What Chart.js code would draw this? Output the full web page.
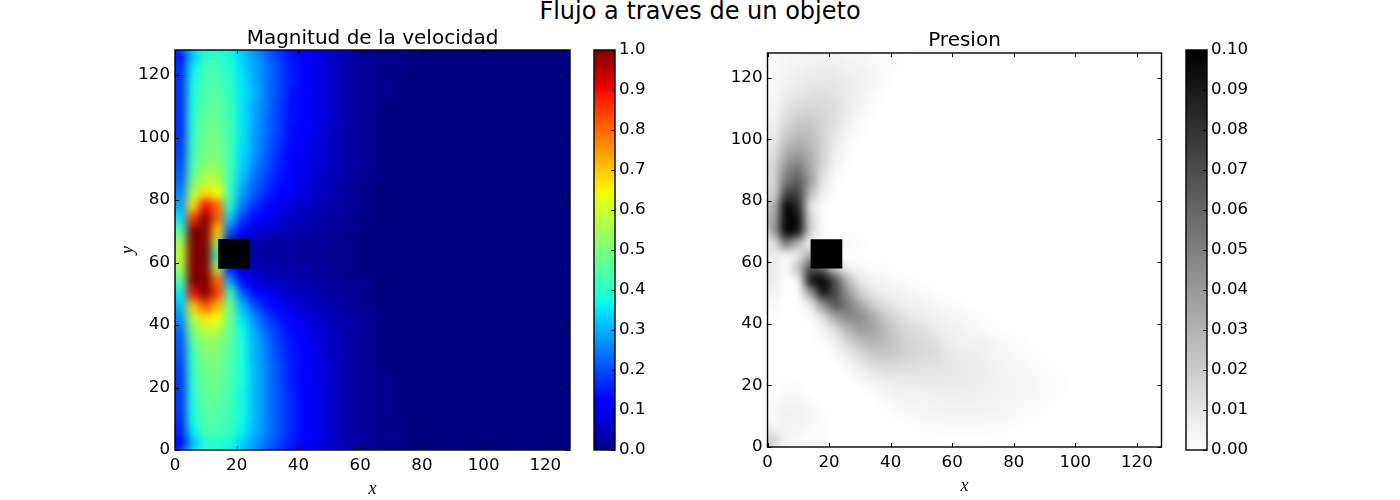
<!DOCTYPE html>
<html>
<head>
<meta charset="utf-8">
<script src="https://cdn.jsdelivr.net/npm/chart.js@4"></script>
<style>
  html, body { margin: 0; background: #fff; }
  #page { position: relative; width: 1400px; height: 500px; overflow: hidden; }
  #page canvas { position: absolute; left: 0; top: 0; }
  .clip { position: absolute; overflow: hidden; }
  #suptitle { position: absolute; left: 0; width: 1400px; top: -3px; text-align: center; font: 24px "DejaVu Sans"; color: #000; }
</style>
</head>
<body>
<div id="page"><div id="suptitle">Flujo a traves de un objeto</div></div>
<script>
// cell centres, rows go from the top of the plot down
const cellX = [2,6,10,14,18,22,26,30,34,38,42,46,50,54,58,62,66,70,74,78,82,86,90,94,98,102,106,110,114,118,122,126];
const cellY = [126,122,118,114,110,106,102,98,94,90,86,82,78,74,70,66,62,58,54,50,46,42,38,34,30,26,22,18,14,10,6,2];

// velocity magnitude in hundredths, columns left out on the right are ~0
const speedRows = [
  [14,32,40,41,38,33,28,23,18,14,11,9,7,5,3,2,1,1],
  [17,36,43,43,39,34,29,24,19,15,11,9,7,5,3,2,1,1],
  [17,37,44,44,40,35,29,24,19,15,11,9,7,5,3,2,1,1],
  [17,38,45,45,41,35,30,24,19,14,11,9,7,5,3,2,1,1],
  [17,39,46,46,42,35,29,24,18,14,11,9,7,5,3,2,1,0],
  [17,40,47,47,42,35,29,23,18,14,11,9,7,5,3,2,1,0],
  [17,41,48,48,43,35,28,23,18,13,11,9,6,4,3,2,1,0],
  [18,42,49,49,43,35,28,22,17,13,10,8,6,4,3,2,1,0],
  [19,43,50,50,43,34,27,21,16,12,10,8,6,4,3,2,1,0],
  [20,45,53,53,43,33,25,20,15,12,9,8,6,4,3,2,1,0],
  [22,49,58,57,42,31,23,18,14,11,9,7,5,4,2,1,1,0],
  [25,56,68,64,42,28,21,16,12,10,8,6,5,3,2,1,0,0],
  [28,67,90,80,40,24,17,13,10,8,6,5,4,3,2,1,0,0],
  [34,85,115,80,32,18,13,10,8,6,5,4,3,2,1,1,0,0],
  [44,105,125,70,22,12,8,7,5,4,4,3,2,2,1,0,0,0],
  [54,118,125,55,3,3,4,3,3,3,2,2,2,1,1,0,0,0],
  [58,122,125,40,2,2,3,3,3,3,2,2,2,1,1,0,0,0],
  [55,118,125,55,14,7,5,4,4,3,3,2,2,1,1,0,0,0],
  [46,108,125,80,28,12,8,6,5,4,4,3,2,2,1,1,0,0],
  [36,90,108,85,42,22,13,10,8,6,5,4,3,2,2,1,0,0],
  [31,70,82,72,48,30,20,14,11,8,7,5,4,3,2,1,1,0],
  [27,58,67,64,48,35,26,19,14,11,8,7,5,4,3,2,1,0],
  [23,50,58,56,47,37,29,22,17,13,10,8,6,4,3,2,1,0],
  [21,45,53,52,46,38,30,24,18,14,11,8,6,5,3,2,1,0],
  [20,43,51,50,45,38,30,24,19,15,11,9,6,5,3,2,1,0],
  [19,42,49,49,44,38,31,25,20,15,12,9,7,5,3,2,1,0],
  [18,41,48,48,44,38,31,25,20,15,12,9,7,5,3,2,1,1],
  [18,40,47,47,43,37,31,25,20,16,12,10,7,5,3,2,1,1],
  [18,39,46,46,43,37,31,25,20,16,12,10,7,5,3,2,1,1],
  [17,38,45,45,42,37,31,25,20,16,12,10,7,5,3,2,1,1],
  [16,36,44,44,41,36,30,25,20,16,12,10,7,5,3,2,1,1],
  [13,31,39,40,38,33,28,23,19,15,11,9,7,5,3,2,1,1],
];

// pressure in thousandths, columns left out on the right are ~0
const pressureRows = [
  [1,3,4,5,5,5,4,3,2,1],
  [2,4,6,7,8,8,6,5,3,2],
  [2,5,8,9,10,10,8,6,4,1],
  [3,7,10,12,13,11,8,5,2],
  [4,11,14,16,15,13,8,4,1],
  [5,14,20,21,17,12,6,2],
  [7,19,26,25,17,10,4,1],
  [10,26,32,28,17,8,2],
  [12,35,42,32,17,6,1],
  [15,45,55,35,14,3],
  [15,55,65,38,10,1],
  [14,75,75,25,5],
  [25,130,85,10,1],
  [30,130,95,15,1],
  [35,130,95,18,1],
  [10,55,28,2,0,0,4,1],
  [8,1,8,35],
  [8,0,25,70,60,18,5,3,1,1],
  [8,0,3,95,130,70,28,9,5,3,2,1],
  [6,0,1,40,95,72,42,20,10,6,5,3,2,1],
  [3,0,0,8,42,68,52,36,20,13,8,6,5,3,2,1],
  [1,0,0,2,12,36,46,46,34,22,15,10,8,6,4,3,2,1],
  [0,0,0,0,4,14,30,38,36,28,19,14,12,9,6,5,3,2,1],
  [0,0,0,0,1,6,16,26,30,27,21,17,15,12,8,6,5,5,3,2,1],
  [0,0,0,0,0,2,8,14,21,22,20,17,15,14,10,8,7,6,4,3,2,1],
  [0,0,0,0,0,0,3,7,12,14,14,13,12,11,10,9,8,7,5,4,3,2,1],
  [0,1,0,0,0,0,0,3,6,8,9,9,9,9,9,9,8,7,6,5,4,3,2,1],
  [0,2,2,0,0,0,0,0,2,4,5,6,6,7,7,7,7,6,6,5,4,3,2,1],
  [2,4,4,2,0,0,0,0,0,1,3,4,4,5,6,6,6,5,5,4,3,2,1],
  [3,5,5,3,1,0,0,0,0,0,1,2,3,3,4,4,4,4,3,3,2,1],
  [3,5,4,2,1,0,0,0,0,0,0,0,1,1,2,2,2,2,1,1],
  [18,3,2,1],
];

const obstacleX = [14,24.3,24.3,14,14];
const obstacleY = [58,58,67.5,67.5,58];
const axisTicks = [0,20,40,60,80,100,120];

Chart.defaults.font.family = "DejaVu Sans";
Chart.defaults.color = "#000";
Chart.defaults.animation = false;
Chart.defaults.responsive = false;
Chart.defaults.devicePixelRatio = 1;

const page = document.getElementById("page");

function piece(v, pts) {
  for (let i = 1; i < pts.length; i++) {
    if (v <= pts[i][0]) {
      const a = pts[i - 1], b = pts[i];
      return a[1] + (b[1] - a[1]) * (v - a[0]) / (b[0] - a[0]);
    }
  }
  return pts[pts.length - 1][1];
}
function jet(v) {
  v = Math.min(1, Math.max(0, v));
  const r = piece(v, [[0,0],[0.35,0],[0.66,1],[0.89,1],[1,0.5]]);
  const g = piece(v, [[0,0],[0.125,0],[0.375,1],[0.64,1],[0.91,0],[1,0]]);
  const b = piece(v, [[0,0.5],[0.11,1],[0.34,1],[0.65,0],[1,0]]);
  return `rgb(${Math.round(r*255)},${Math.round(g*255)},${Math.round(b*255)})`;
}
function grayInv(v) {
  const c = Math.round(255 * (1 - Math.min(1, Math.max(0, v))));
  return `rgb(${c},${c},${c})`;
}
const jetStops = [0,0.11,0.125,0.34,0.35,0.375,0.64,0.65,0.66,0.89,0.91,1];
const grayStops = [0,1];

function addCanvas(parent, w, h) {
  const c = document.createElement("canvas");
  c.width = w; c.height = h;
  c.style.width = w + "px"; c.style.height = h + "px";
  parent.appendChild(c);
  return c;
}

// inward ticks and the black frame
function framePlugin(sides) {
  return {
    id: "frame",
    afterDatasetsDraw(chart) {
      const { ctx, chartArea: a, scales } = chart;
      ctx.save();
      ctx.strokeStyle = "#000";
      ctx.lineWidth = 1;
      ctx.beginPath();
      if (sides.includes("x")) {
        scales.x.ticks.forEach(t => {
          const p = Math.round(scales.x.getPixelForValue(t.value)) + 0.5;
          ctx.moveTo(p, a.bottom); ctx.lineTo(p, a.bottom - 4);
          ctx.moveTo(p, a.top); ctx.lineTo(p, a.top + 4);
        });
      }
      scales.y.ticks.forEach(t => {
        const p = Math.round(scales.y.getPixelForValue(t.value)) + 0.5;
        if (sides.includes("y")) { ctx.moveTo(a.left, p); ctx.lineTo(a.left + 4, p); }
        ctx.moveTo(a.right, p); ctx.lineTo(a.right - 4, p);
      });
      ctx.stroke();
      ctx.lineWidth = 1.4;
      ctx.strokeRect(a.left, a.top, a.right - a.left, a.bottom - a.top);
      ctx.restore();
    },
  };
}

function heatLayer(box, rows, bg, colorOf, blur) {
  const m = 24;
  const clip = document.createElement("div");
  clip.className = "clip";
  clip.style.cssText = `left:${box.l}px;top:${box.t}px;width:${box.r-box.l}px;height:${box.b-box.t}px;background:${bg}`;
  page.appendChild(clip);
  const c = addCanvas(clip, box.r - box.l + 2 * m, box.b - box.t + 2 * m);
  c.style.left = -m + "px"; c.style.top = -m + "px";
  c.style.filter = `blur(${blur}px)`;
  const cells = [], edge = [];
  rows.forEach((row, r) => row.forEach((v, k) => {
    const cell = { x: cellX[k], y: cellY[r], v };
    cells.push(cell);
    if (r === 0 || r === rows.length - 1 || k === 0) edge.push(cell);
  }));
  const common = {
    pointStyle: "rect", pointBorderWidth: 0, clip: false,
    pointBackgroundColor: ctx => colorOf(ctx.raw.v),
  };
  new Chart(c, {
    type: "scatter",
    data: { datasets: [
      { ...common, data: cells, order: 1, pointRadius: 9.6 },
      { ...common, data: edge, order: 2, pointRadius: 22 },
    ] },
    options: {
      layout: { padding: m },
      plugins: { legend: { display: false }, tooltip: { enabled: false } },
      scales: {
        x: { display: false, min: 0, max: 128 },
        y: { display: false, min: 0, max: 128 },
      },
    },
  });
}

function axesLayer(box, title, yTitle, yWidth, titleTop) {
  const c = addCanvas(page, 1400, 500);
  const labelFont = { family: "Liberation Serif", size: 18, style: "italic" };
  new Chart(c, {
    type: "scatter",
    data: { datasets: [{
      data: obstacleX.map((x, i) => ({ x, y: obstacleY[i] })),
      showLine: true, fill: "shape", backgroundColor: "#000",
      borderWidth: 0, pointRadius: 0, tension: 0,
    }] },
    options: {
      layout: { padding: { left: box.l - yWidth, right: 1400 - box.r, top: titleTop, bottom: 500 - box.b - 50 } },
      plugins: {
        legend: { display: false }, tooltip: { enabled: false },
        title: { display: true, text: title, fullSize: false, color: "#000",
                 font: { size: 20, weight: "normal" }, padding: { top: 0, bottom: box.t - titleTop - 24 } },
      },
      scales: {
        x: {
          type: "linear", min: 0, max: 128,
          afterBuildTicks(s) { s.ticks = axisTicks.map(value => ({ value })); },
          afterFit(s) { s.height = 50; },
          grid: { display: false, drawTicks: false }, border: { display: false },
          ticks: { maxRotation: 0, autoSkip: false, padding: 6, font: { size: 16.67 }, color: "#000" },
          title: { display: true, text: "x", font: labelFont, color: "#000", padding: 0 },
        },
        y: {
          type: "linear", min: 0, max: 128,
          afterBuildTicks(s) { s.ticks = axisTicks.map(value => ({ value })); },
          afterFit(s) { s.width = yWidth; },
          grid: { display: false, drawTicks: false }, border: { display: false },
          ticks: { autoSkip: false, padding: 5, font: { size: 16.67 }, color: "#000" },
          title: { display: yTitle, text: "y", font: labelFont, color: "#000", padding: 0 },
        },
      },
    },
    plugins: [framePlugin(["x", "y"])],
  });
}

function colorbar(box, top, step, digits, stops, colorOf) {
  const c = addCanvas(page, 1400, 500);
  new Chart(c, {
    type: "bar",
    data: { labels: [""], datasets: [{
      data: [[0, top]],
      barPercentage: 1, categoryPercentage: 1, borderWidth: 0,
      backgroundColor(ctx) {
        const a = ctx.chart.chartArea;
        if (!a) return "#000";
        const g = ctx.chart.ctx.createLinearGradient(0, a.bottom, 0, a.top);
        stops.forEach(s => g.addColorStop(s, colorOf(s)));
        return g;
      },
    }] },
    options: {
      layout: { padding: { left: box.l, right: 1400 - box.r - 60, top: box.t, bottom: 500 - box.b } },
      plugins: { legend: { display: false }, tooltip: { enabled: false } },
      scales: {
        x: { display: false },
        y: {
          position: "right", min: 0, max: top,
          afterFit(s) { s.width = 60; },
          grid: { display: false, drawTicks: false }, border: { display: false },
          ticks: { stepSize: step, autoSkip: false, padding: 4, font: { size: 16.67 }, color: "#000",
                   callback: v => Number(v).toFixed(digits) },
        },
      },
    },
    plugins: [framePlugin(["bar"])],
  });
}

const plotL = { l: 175, r: 570, t: 50, b: 450 };
const plotR = { l: 767.5, r: 1161.5, t: 53, b: 447 };

heatLayer(plotL, speedRows, jet(0), v => jet(v / 100), 4);
heatLayer(plotR, pressureRows, "#fff", v => grayInv(v / 100), 5);
axesLayer(plotL, "Magnitud de la velocidad", true, 58, 27);
axesLayer(plotR, "Presion", false, 58, 29);
colorbar({ l: 594, r: 615, t: 50, b: 450 }, 1, 0.1, 1, jetStops, jet);
colorbar({ l: 1186, r: 1207, t: 50, b: 450 }, 0.1, 0.01, 2, grayStops, grayInv);
</script>
</body>
</html>
